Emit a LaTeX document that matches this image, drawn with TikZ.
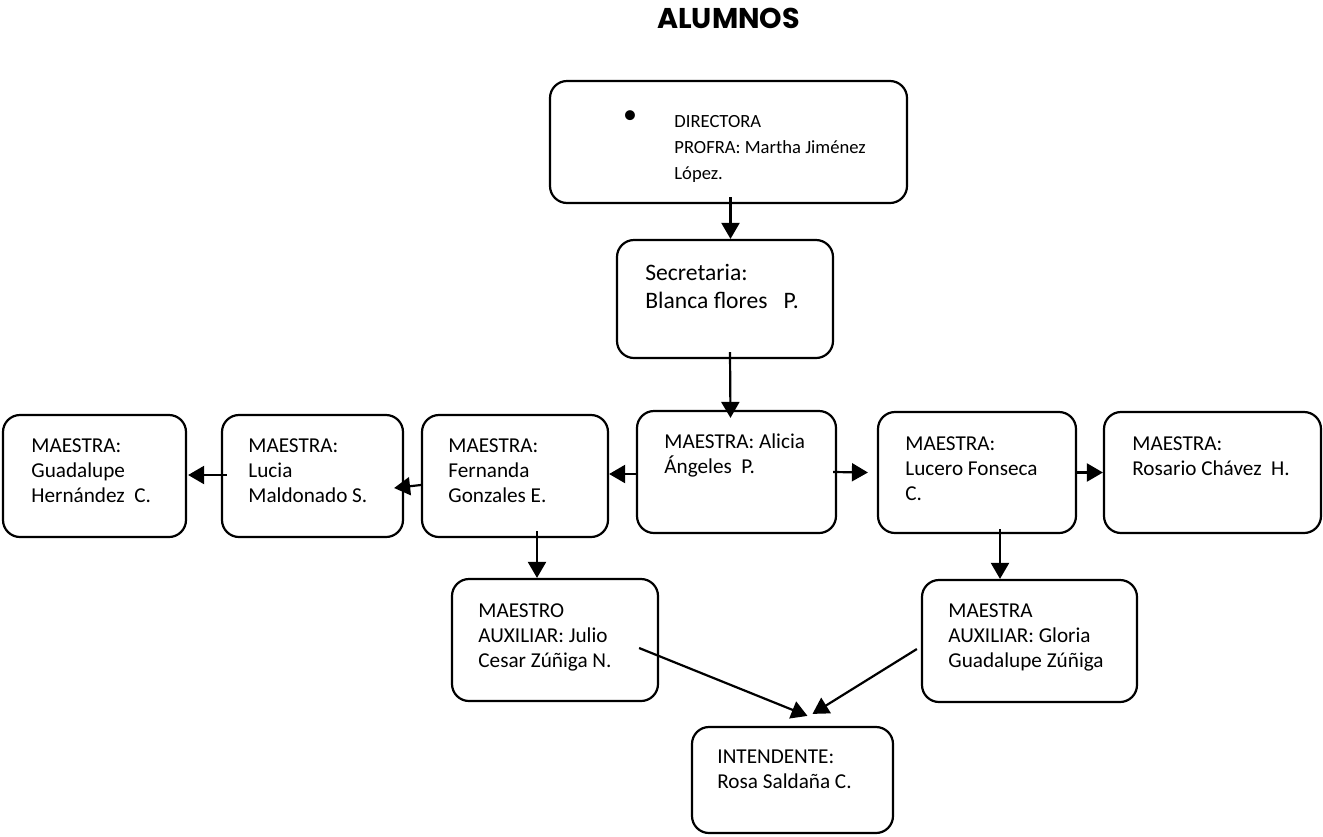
\documentclass[tikz,border=0pt]{standalone}
\usepackage{fontspec}
\setmainfont{Carlito}
\newfontfamily\titlefont{Poppins}
\usetikzlibrary{arrows.meta,fit}

\tikzset{
  caja/.style={draw, line width=1.1pt, rounded corners=8.5pt, inner sep=0pt},
  texto/.style={anchor=base west, inner sep=0pt, text width=150pt, align=flush left,
    font=\fontsize{10.6}{12.6}\selectfont},
  flecha/.style={-{Triangle[length=8pt,width=9pt]}, line width=1.1pt},
}

\begin{document}
\begin{tikzpicture}[x=0.5pt, y=-0.5pt]
    \useasboundingbox (0,0) rectangle (1323,836);

    % Titulo
    \node[inner sep=0pt, anchor=base, font=\titlefont\bfseries\fontsize{14.3}{16}\selectfont] (titulo) at (728.5,28) {ALUMNOS};

    % Cajas
    \node[caja, fit={(550,81) (907,203)}] (dir) {};
    \node[caja, fit={(617,240) (833,358)}] (sec) {};
    \node[caja, fit={(637,411) (836,533)}] (alicia) {};
    \node[caja, fit={(422,415) (608,537)}] (fern) {};
    \node[caja, fit={(222,415) (403,537)}] (lucia) {};
    \node[caja, fit={(3,415) (186,537)}] (guad) {};
    \node[caja, fit={(878,412) (1076,533)}] (lucero) {};
    \node[caja, fit={(1104,412) (1321,533)}] (rosario) {};
    \node[caja, fit={(452,579) (658,701)}] (julio) {};
    \node[caja, fit={(922,580) (1137,702)}] (gloria) {};
    \node[caja, fit={(692,727) (893,833)}] (rosa) {};

    % Textos
    \node[inner sep=0pt, font=\fontsize{14}{16}\selectfont] (dir-punto) at (630,117) {•};
    \node[texto, font=\fontsize{9.3}{13}\selectfont] (dir-txt) at (674,127) {DIRECTORA\\PROFRA: Martha Jiménez\\López.};
    \node[texto, font=\fontsize{11.8}{14}\selectfont] (sec-txt) at (645,280) {Secretaria:\\Blanca flores\ \ \ P.};
    \node[texto] (alicia-txt) at (664,448) {MAESTRA: Alicia\\Ángeles\ \ P.};
    \node[texto] (fern-txt) at (448,452) {MAESTRA:\\Fernanda\\Gonzales E.};
    \node[texto] (lucia-txt) at (248,452) {MAESTRA:\\Lucia\\Maldonado S.};
    \node[texto] (guad-txt) at (31,452) {MAESTRA:\\Guadalupe\\Hernández\ \ C.};
    \node[texto] (lucero-txt) at (905,450) {MAESTRA:\\Lucero Fonseca\\C.};
    \node[texto] (rosario-txt) at (1132,450) {MAESTRA:\\Rosario Chávez\ \ H.};
    \node[texto] (julio-txt) at (478,617) {MAESTRO\\AUXILIAR: Julio\\Cesar Zúñiga N.};
    \node[texto] (gloria-txt) at (948,617) {MAESTRA\\AUXILIAR: Gloria\\Guadalupe Zúñiga};
    \node[texto] (rosa-txt) at (717,763) {INTENDENTE:\\Rosa Saldaña C.};

    % Flechas
    \draw[flecha] ([shift={(2,-7)}]dir.south) -- ([shift={(2,0)}]dir.south |- sec.north);
    \draw[flecha] ([shift={(5,-7)}]sec.south) -- ([shift={(-6,8)}]alicia.north);
    \draw[flecha] ([shift={(0,2)}]alicia.west) -- ([shift={(0,2)}]alicia.west -| fern.east);
    \draw[flecha] ([shift={(0,9)}]fern.west) -- ([shift={(-10,12)}]lucia.east);
    \draw[flecha] ([shift={(6,-1)}]lucia.west) -- ([shift={(1,-1)}]guad.east);
    \draw[flecha] ([shift={(-4,0)}]alicia.east) -- ([shift={(-9,0)}]lucero.west);
    \draw[flecha] (lucero.east) -- (rosario.west);
    \draw[flecha] ([shift={(22,-7)}]fern.south) -- ([shift={(22,0)}]fern.south |- julio.north);
    \draw[flecha] ([shift={(23,-5)}]lucero.south) -- ([shift={(23,0)}]lucero.south |- gloria.north);
    \draw[flecha] ([shift={(-20,8)}]julio.east) -- ([shift={(15,-10)}]rosa.north);
    \draw[flecha] ([shift={(-4,8)}]gloria.west) -- ([shift={(20,-12)}]rosa.north);
\end{tikzpicture}
\end{document}
